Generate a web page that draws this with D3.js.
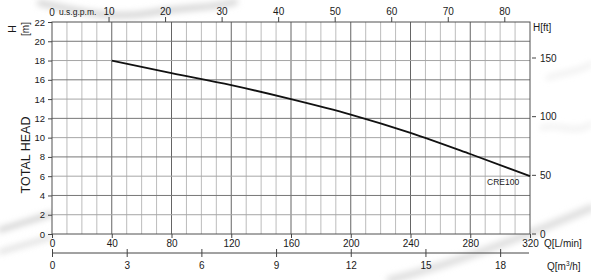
<!DOCTYPE html>
<html>
<head>
<meta charset="utf-8">
<script src="https://cdn.jsdelivr.net/npm/d3@7"></script>
<style>
  html, body { margin: 0; padding: 0; background: #fff; }
  svg { display: block; font-family: "Liberation Sans", Arial, Helvetica, sans-serif; }
</style>
</head>
<body>
<svg id="chart" width="591" height="280"></svg>
<script>
// ---- data ----
const flowLpm = [40, 80, 120, 160, 200, 240, 280, 320];
const headM   = [18.0, 16.7, 15.45, 14.0, 12.4, 10.5, 8.3, 6.0];
const seriesName = "CRE100";
const lpmTicks  = [0, 40, 80, 120, 160, 200, 240, 280, 320];
const headTicks = [0, 2, 4, 6, 8, 10, 12, 14, 16, 18, 20, 22];
const gpmTicks  = [10, 20, 30, 40, 50, 60, 70, 80];
const m3hTicks  = [0, 3, 6, 9, 12, 15, 18];
const ftTicks   = [0, 50, 100, 150];

// ---- layout ----
const L = 52, R = 530, T = 22, B = 234;
const svg = d3.select("#chart");

// decorative splash background (subtle)
const defs = svg.append("defs");
const blur = defs.append("filter").attr("id", "blur").attr("x", "-50%").attr("y", "-50%").attr("width", "200%").attr("height", "200%");
blur.append("feGaussianBlur").attr("stdDeviation", 3);
const deco = svg.append("g").attr("filter", "url(#blur)").attr("fill", "none").attr("stroke-linecap", "round");
deco.append("path").attr("d", "M40,3 C75,10 110,20 150,13 C185,7 215,8 235,2").attr("stroke", "#d4d4d4").attr("stroke-width", 6);
deco.append("path").attr("d", "M0,230 C20,224 38,218 52,214").attr("stroke", "#c4c4c4").attr("stroke-width", 4);
deco.append("path").attr("d", "M0,252 C20,246 38,241 52,237").attr("stroke", "#cfcfcf").attr("stroke-width", 3);
deco.append("path").attr("d", "M390,280 C460,262 525,236 591,208").attr("stroke", "#dddddd").attr("stroke-width", 7);
deco.append("path").attr("d", "M548,78 C560,72 575,74 591,64").attr("stroke", "#ececec").attr("stroke-width", 4);
deco.append("path").attr("d", "M542,128 C560,122 572,136 591,124").attr("stroke", "#ececec").attr("stroke-width", 4);

// ---- scales ----
const x   = d3.scaleLinear().domain([0, 320]).range([L, R]);
const y   = d3.scaleLinear().domain([0, 22]).range([B, T]);
const xg  = d3.scaleLinear().domain([0, 320 / 3.785]).range([L, R]);
const xm  = d3.scaleLinear().domain([0, 320 * 60 / 1000]).range([L, R]);
const yf  = d3.scaleLinear().domain([0, 150 * (B - T) / 176]).range([B, T]);

// plot background
svg.append("rect").attr("x", L).attr("y", T).attr("width", R - L).attr("height", B - T).attr("fill", "#fff");

// grid
const grid = svg.append("g");
const vlines = d3.range(10, 320, 10);
grid.selectAll("line.v").data(vlines).join("line")
  .attr("x1", d => x(d)).attr("x2", d => x(d)).attr("y1", T).attr("y2", B)
  .attr("stroke", d => d % 40 === 0 ? "#656565" : "#bcbcbc").attr("stroke-width", 1);
const hlines = d3.range(2, 22, 2);
grid.selectAll("line.h").data(hlines).join("line")
  .attr("x1", L).attr("x2", R).attr("y1", d => y(d)).attr("y2", d => y(d))
  .attr("stroke", d => d % 4 === 0 ? "#777" : "#a6a6a6").attr("stroke-width", 1);
// frame
svg.append("rect").attr("x", L).attr("y", T).attr("width", R - L).attr("height", B - T)
  .attr("fill", "none").attr("stroke", "#505050").attr("stroke-width", 1);

// ---- axes ----
function style(g, fs) {
  g.select(".domain").remove();
  g.selectAll(".tick line").attr("stroke", "#444");
  g.selectAll(".tick text").attr("fill", "#1a1a1a").attr("font-size", fs).attr("font-family", null);
}
// left (m)
svg.append("g").attr("transform", `translate(${L},0)`)
  .call(d3.axisLeft(y).tickValues(headTicks).tickSize(4).tickPadding(3))
  .call(g => style(g, "9.5px"));
// bottom (L/min)
svg.append("g").attr("transform", `translate(0,${B})`)
  .call(d3.axisBottom(x).tickValues(lpmTicks).tickSize(4).tickPadding(2))
  .call(g => style(g, "10px"));
// top (usgpm)
svg.append("g").attr("transform", `translate(0,${T})`)
  .call(d3.axisTop(xg).tickValues(gpmTicks).tickSize(5).tickPadding(2))
  .call(g => style(g, "10px"));
// right (ft)
svg.append("g").attr("transform", `translate(${R},0)`)
  .call(d3.axisRight(yf).tickValues(ftTicks).tickSize(0).tickPadding(10))
  .call(g => style(g, "10px"));
svg.append("g").selectAll("line").data(ftTicks).join("line")
  .attr("x1", R + 2).attr("x2", R + 6).attr("y1", d => yf(d)).attr("y2", d => yf(d))
  .attr("stroke", "#444");
// m3/h axis
const mAxisY = 253;
const gm = svg.append("g").attr("transform", `translate(0,${mAxisY})`)
  .call(d3.axisBottom(xm).tickValues(m3hTicks).tickSize(4).tickPadding(5))
  .call(g => style(g, "10px"));
gm.selectAll(".tick line").attr("y1", -4);
svg.append("line").attr("x1", L).attr("x2", R - 1).attr("y1", mAxisY).attr("y2", mAxisY).attr("stroke", "#444");

// axis titles
svg.append("text").attr("x", L).attr("y", 12).attr("dy", "0.35em").attr("text-anchor", "middle")
  .attr("font-size", "10px").attr("fill", "#1a1a1a").text("0");
svg.append("text").attr("x", 59).attr("y", 12).attr("dy", "0.35em")
  .attr("font-size", "8.5px").attr("fill", "#1a1a1a").text("u.s.g.p.m.");
svg.append("text").attr("transform", "translate(12.5,29) rotate(-90)").attr("text-anchor", "middle").attr("dy", "0.35em")
  .attr("font-size", "10.5px").attr("fill", "#1a1a1a").text("H");
svg.append("text").attr("transform", "translate(25,29) rotate(-90)").attr("text-anchor", "middle").attr("dy", "0.35em")
  .attr("font-size", "10px").attr("fill", "#1a1a1a").text("[m]");
svg.append("text").attr("transform", "translate(26,155) rotate(-90)").attr("text-anchor", "middle").attr("dy", "0.35em")
  .attr("font-size", "12.5px").attr("fill", "#1a1a1a").text("TOTAL HEAD");
svg.append("text").attr("x", 533).attr("y", 27).attr("dy", "0.35em")
  .attr("font-size", "10px").attr("fill", "#1a1a1a").text("H[ft]");
svg.append("text").attr("x", 544).attr("y", 243).attr("dy", "0.35em")
  .attr("font-size", "10px").attr("fill", "#1a1a1a").text("Q[L/min]");
const qm = svg.append("text").attr("x", 547).attr("y", 266).attr("dy", "0.35em")
  .attr("font-size", "10px").attr("fill", "#1a1a1a");
qm.append("tspan").text("Q[m");
qm.append("tspan").attr("font-size", "6.5px").attr("dy", "-4").text("3");
qm.append("tspan").attr("dy", "4").text("/h]");

// ---- curve ----
const pts = flowLpm.map((q, i) => [q, headM[i]]);
svg.append("path").datum(pts)
  .attr("d", d3.line().x(d => x(d[0])).y(d => y(d[1])).curve(d3.curveMonotoneX))
  .attr("fill", "none").attr("stroke", "#111").attr("stroke-width", 1.8);
svg.append("text").attr("x", 487).attr("y", 182).attr("dy", "0.35em")
  .attr("font-size", "8.5px").attr("fill", "#1a1a1a").text(seriesName);
</script>
</body>
</html>
